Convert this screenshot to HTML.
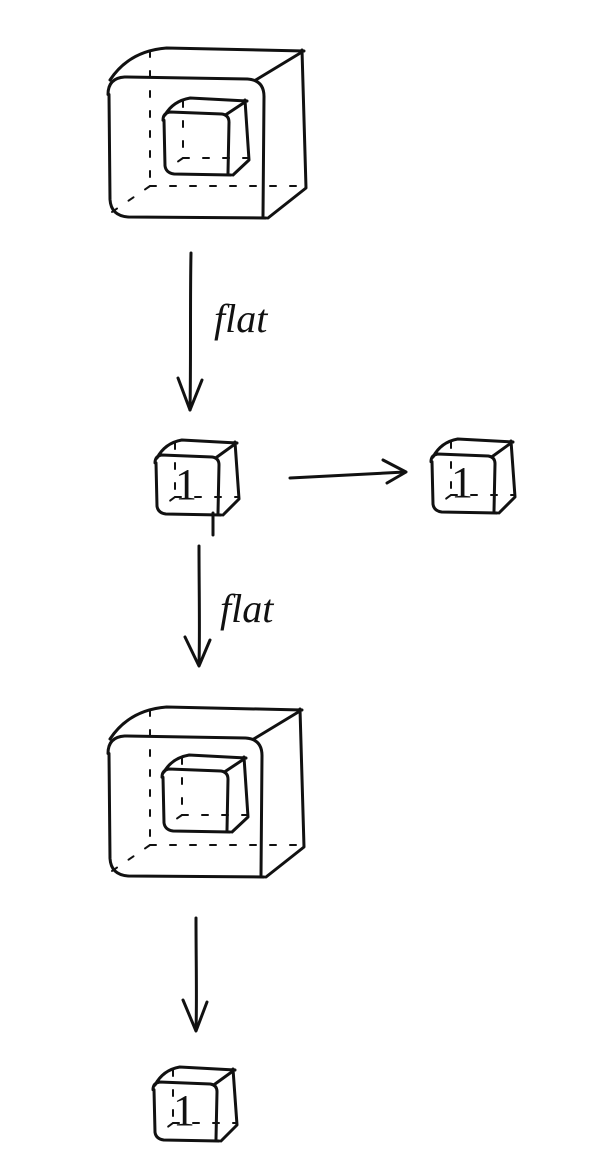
<!DOCTYPE html>
<html><head><meta charset="utf-8"><style>
html,body{margin:0;padding:0;background:#fff;}
svg{display:block;}
text{font-family:"Liberation Serif",serif;fill:#111;}
</style></head><body>
<svg id="s" width="602" height="1176" viewBox="0 0 602 1176" fill="none" stroke="#111" stroke-width="3" stroke-linecap="round" stroke-linejoin="round">
  <g>
    <path d="M191 253 C190 300 191 360 190 410"/>
    <path d="M178 378 L190 410 L202 380"/>
  </g>
  <text x="214" y="332" font-size="40" font-style="italic" stroke="none">flat</text>
  <g>
    <path d="M290 478 C330 476 370 474 405 472"/>
    <path d="M383 460 L406 472 L387 483"/>
  </g>
  <path d="M213 513 L213 535"/>
  <g>
    <path d="M199 546 C199 590 200 630 199 665"/>
    <path d="M185 637 L199 666 L210 640"/>
  </g>
  <text x="220" y="622" font-size="40" font-style="italic" stroke="none">flat</text>
  <g>
    <path d="M196 918 C196 960 197 1000 196 1030"/>
    <path d="M183 1000 L196 1031 L207 1002"/>
  </g>
  <text x="175" y="499" font-size="44" stroke="none">1</text>
  <text x="451" y="497" font-size="44" stroke="none">1</text>
  <text x="173" y="1125" font-size="44" stroke="none">1</text>
</svg>
<script>
var svg=document.getElementById('s');
var NS='http://www.w3.org/2000/svg';
function P(g,d,dash){var p=document.createElementNS(NS,'path');p.setAttribute('d',d);if(dash){p.setAttribute('stroke-dasharray','6 14');p.setAttribute('stroke-width','2');}g.appendChild(p);}
function cube(name,x,y,w,h,dx,dy){
  var g=document.createElementNS(NS,'g');
  
  
  var r=Math.min(w,h)*0.12;
  P(g,'M'+x+' '+(y+r)+' Q'+x+' '+y+' '+(x+r)+' '+(y-1)+' L'+(x+w-r)+' '+(y+1)+' Q'+(x+w)+' '+(y+2)+' '+(x+w)+' '+(y+r+2)+' L'+(x+w-1)+' '+(y+h)+' M'+(x+1)+' '+(y+r)+' L'+(x+2)+' '+(y+h-r)+' Q'+(x+3)+' '+(y+h)+' '+(x+r+4)+' '+(y+h+1)+' L'+(x+w+2)+' '+(y+h+2));
  P(g,'M'+(x+2)+' '+(y+2)+' Q'+(x+dx*0.5)+' '+(y+dy+3)+' '+(x+dx+r)+' '+(y+dy)+' L'+(x+w+dx-2)+' '+(y+dy+3));
  P(g,'M'+(x+w+dx-4)+' '+(y+dy+2)+' L'+(x+w+dx)+' '+(y+h+dy+2)+' L'+(x+w+4)+' '+(y+h+2));
  P(g,'M'+(x+w-r*0.5)+' '+(y+2)+' L'+(x+w+dx-4)+' '+(y+dy+4));
  var bx=x+dx, by=y+h+dy;
  P(g,'M'+bx+' '+(y+dy+3)+' L'+bx+' '+by,true);
  P(g,'M'+bx+' '+by+' L'+(x+w+dx)+' '+by,true);
  P(g,'M'+bx+' '+by+' L'+(x+4)+' '+(y+h-4),true);
  svg.insertBefore(g,svg.firstChild);
}
var cubes=[
 ['outer-cube-top',108,78,156,138,42,-30],
 ['inner-cube-top',163,113,66,60,20,-15],
 ['small-cube-1',155,456,64,57,20,-16],
 ['small-cube-2',431,455,64,56,20,-16],
 ['outer-cube-bottom',108,737,154,138,42,-30],
 ['inner-cube-bottom',162,770,66,60,20,-15],
 ['small-cube-3',153,1083,64,56,20,-16]
];
cubes.forEach(function(c){cube(c[0],c[1],c[2],c[3],c[4],c[5],c[6]);});
</script>
</body></html>
